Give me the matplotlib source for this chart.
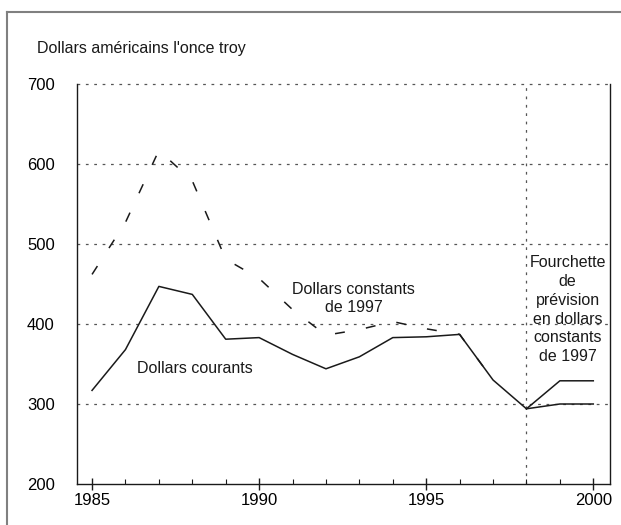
import matplotlib
matplotlib.use("Agg")
import matplotlib.pyplot as plt
from matplotlib.lines import Line2D
from matplotlib.ticker import MultipleLocator

plt.rcParams['font.family'] = ['Liberation Sans', 'DejaVu Sans']

years_current = [1985, 1986, 1987, 1988, 1989, 1990, 1991, 1992, 1993, 1994, 1995, 1996, 1997, 1998]
current = [317, 368, 447, 437, 381, 383, 362, 344, 359, 383, 384, 387, 330, 294]

years_constant = [1985, 1986, 1987, 1988, 1989, 1990, 1991, 1992, 1993, 1994, 1995, 1996, 1997]
constant = [462, 527, 617, 579, 481, 457, 418, 386, 393, 403, 394, 387, 330]

years_forecast = [1998, 1999, 2000]
forecast_high = [294, 329, 329]
forecast_low = [294, 300, 300]

xticks = [1985, 1990, 1995, 2000]
yticks = [200, 300, 400, 500, 600, 700]

fig = plt.figure(figsize=(6.21, 5.25), dpi=100)
ax = fig.add_axes([77/621, 1-484/525, (610-77)/621, 400/525])

ink = '#1a1a1a'
ax.plot(years_current, current, color=ink, lw=1.1)
ax.plot(years_constant, constant, color=ink, lw=1.1, linestyle=(0, (6.5, 14)))
ax.plot(years_forecast, forecast_high, color=ink, lw=1.1)
ax.plot(years_forecast, forecast_low, color=ink, lw=1.1)

ax.set_xlim(1984.55, 2000.5)
ax.set_ylim(200, 700)

gridc = '#555555'
for y in [300, 400, 500, 600, 700]:
    ax.axhline(y, color=gridc, lw=0.9, linestyle=(0, (2.2, 4.5)), clip_on=False, zorder=0)
ax.axvline(1998, color=gridc, lw=0.9, linestyle=(0, (2.2, 4.5)), zorder=0)

ax.spines['top'].set_visible(False)
for s in ['left', 'right', 'bottom']:
    ax.spines[s].set_color(ink)
    ax.spines[s].set_linewidth(1.0)

ax.set_yticks(yticks)
ax.set_yticklabels([str(v) for v in yticks], fontsize=12)
ax.tick_params(axis='y', length=0, pad=16)
ax.set_xticks(xticks)
ax.set_xticklabels([str(v) for v in xticks], fontsize=12)
ax.xaxis.set_minor_locator(MultipleLocator(1))
ax.tick_params(axis='x', which='major', direction='inout', length=9, width=1.0, pad=2, color=ink)
ax.tick_params(axis='x', which='minor', direction='in', length=3.5, width=0.8, color=ink)

ax.text(1986.35, 344, 'Dollars courants', fontsize=11.5, ha='left', va='center', color=ink)
ax.text(1992.83, 432, 'Dollars constants\nde 1997', fontsize=11.5, ha='center', va='center',
        color=ink, linespacing=1.3)
ax.text(1999.23, 418, 'Fourchette\nde\nprévision\nen dollars\nconstants\nde 1997', fontsize=11.5,
        ha='center', va='center', color=ink, linespacing=1.32)

fig.text(37/621, 1-48/525, "Dollars américains l'once troy", fontsize=11.5, ha='left', va='center', color=ink)

# outer frame
fig.add_artist(Line2D([7/621, 1.0], [1-12/525, 1-12/525], transform=fig.transFigure, color='#808080', lw=1.5))
fig.add_artist(Line2D([7/621, 7/621], [0, 1-12/525], transform=fig.transFigure, color='#808080', lw=1.5))

fig.savefig('out.png', dpi=100)
